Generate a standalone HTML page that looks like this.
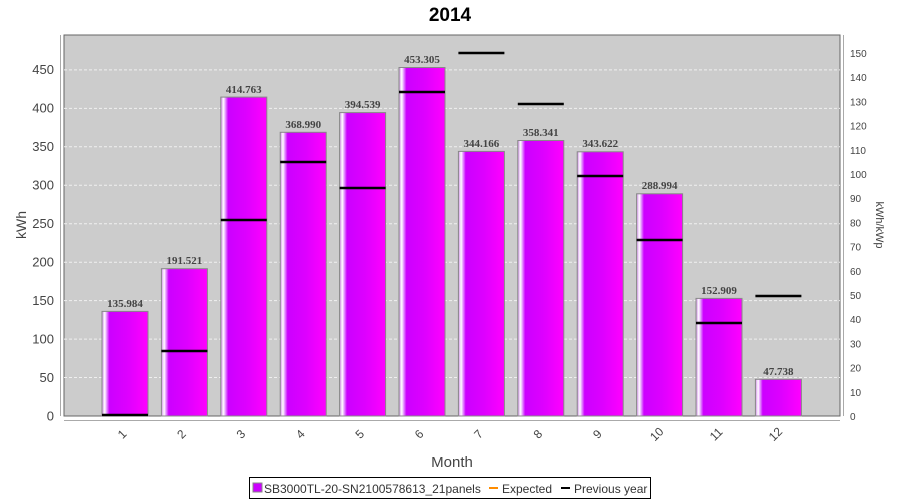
<!DOCTYPE html><html><head><style>body{margin:0;background:#fff}svg{display:block;font-family:"Liberation Sans",sans-serif}</style></head><body>
<svg width="900" height="500" xmlns="http://www.w3.org/2000/svg">
<defs><linearGradient id="g" x1="0" x2="1" y1="0" y2="0">
<stop offset="0" stop-color="#d08ae8"/><stop offset="0.06" stop-color="#ffffff"/><stop offset="0.11" stop-color="#e080ff"/><stop offset="0.16" stop-color="#cc00ff"/><stop offset="0.55" stop-color="#dd00ff"/><stop offset="1" stop-color="#ff00ff"/></linearGradient></defs>
<text x="450" y="21" font-size="19" font-weight="bold" text-anchor="middle">2014</text>
<rect x="64" y="35" width="776" height="381" fill="#cccccc" stroke="#666" stroke-width="1"/>
<g stroke="#f0f0f0" stroke-dasharray="3,2" stroke-width="1">
<line x1="64" x2="840" y1="377.5" y2="377.5"/><line x1="64" x2="840" y1="339.1" y2="339.1"/><line x1="64" x2="840" y1="300.6" y2="300.6"/><line x1="64" x2="840" y1="262.2" y2="262.2"/><line x1="64" x2="840" y1="223.7" y2="223.7"/><line x1="64" x2="840" y1="185.3" y2="185.3"/><line x1="64" x2="840" y1="146.8" y2="146.8"/><line x1="64" x2="840" y1="108.4" y2="108.4"/><line x1="64" x2="840" y1="69.9" y2="69.9"/>
</g>
<g fill="url(#g)" stroke="#888" stroke-width="1">
<rect x="102" y="311.4" width="46" height="104.6"/><rect x="161.4" y="268.7" width="46" height="147.3"/><rect x="220.8" y="97.1" width="46" height="318.9"/><rect x="280.2" y="132.3" width="46" height="283.7"/><rect x="339.6" y="112.6" width="46" height="303.4"/><rect x="399" y="67.5" width="46" height="348.5"/><rect x="458.4" y="151.4" width="46" height="264.6"/><rect x="517.8" y="140.5" width="46" height="275.5"/><rect x="577.2" y="151.8" width="46" height="264.2"/><rect x="636.6" y="193.8" width="46" height="222.2"/><rect x="696" y="298.4" width="46" height="117.6"/><rect x="755.4" y="379.3" width="46" height="36.7"/>
</g>
<g stroke="#000" stroke-width="2.5">
<line x1="102" x2="148" y1="415" y2="415"/><line x1="161.4" x2="207.4" y1="351" y2="351"/><line x1="220.8" x2="266.8" y1="220" y2="220"/><line x1="280.2" x2="326.2" y1="162" y2="162"/><line x1="339.6" x2="385.6" y1="188" y2="188"/><line x1="399" x2="445" y1="92" y2="92"/><line x1="458.4" x2="504.4" y1="53" y2="53"/><line x1="517.8" x2="563.8" y1="104" y2="104"/><line x1="577.2" x2="623.2" y1="176" y2="176"/><line x1="636.6" x2="682.6" y1="240" y2="240"/><line x1="696" x2="742" y1="323" y2="323"/><line x1="755.4" x2="801.4" y1="296" y2="296"/>
</g>
<g font-family="Liberation Serif,serif" font-size="11" font-weight="bold" fill="#444" text-anchor="middle">
<text x="125" y="307">135.984</text><text x="184.4" y="264">191.521</text><text x="243.8" y="93">414.763</text><text x="303.2" y="128">368.990</text><text x="362.6" y="108">394.539</text><text x="422" y="63">453.305</text><text x="481.4" y="147">344.166</text><text x="540.8" y="136">358.341</text><text x="600.2" y="147">343.622</text><text x="659.6" y="189">288.994</text><text x="719" y="294">152.909</text><text x="778.4" y="375">47.738</text>
</g>
<g stroke="#aaa"><line x1="60.5" x2="60.5" y1="35" y2="416"/><line x1="843.5" x2="843.5" y1="35" y2="416"/><line x1="64" x2="840" y1="420.5" y2="420.5"/></g>
<g font-size="13" fill="#444" text-anchor="end">
<text x="54" y="420.5">0</text><text x="54" y="382">50</text><text x="54" y="343.5">100</text><text x="54" y="305">150</text><text x="54" y="266.5">200</text><text x="54" y="228">250</text><text x="54" y="189.5">300</text><text x="54" y="151">350</text><text x="54" y="112.5">400</text><text x="54" y="74">450</text>
</g>
<g font-size="10" fill="#444">
<text x="850" y="420">0</text><text x="850" y="395.8">10</text><text x="850" y="371.6">20</text><text x="850" y="347.4">30</text><text x="850" y="323.2">40</text><text x="850" y="299">50</text><text x="850" y="274.8">60</text><text x="850" y="250.6">70</text><text x="850" y="226.4">80</text><text x="850" y="202.2">90</text><text x="850" y="178">100</text><text x="850" y="153.8">110</text><text x="850" y="129.6">120</text><text x="850" y="105.4">130</text><text x="850" y="81.2">140</text><text x="850" y="57">150</text>
</g>
<g font-size="12" fill="#444" text-anchor="middle">
<text transform="translate(125,437) rotate(-45)">1</text><text transform="translate(184.4,437) rotate(-45)">2</text><text transform="translate(243.8,437) rotate(-45)">3</text><text transform="translate(303.2,437) rotate(-45)">4</text><text transform="translate(362.6,437) rotate(-45)">5</text><text transform="translate(422,437) rotate(-45)">6</text><text transform="translate(481.4,437) rotate(-45)">7</text><text transform="translate(540.8,437) rotate(-45)">8</text><text transform="translate(600.2,437) rotate(-45)">9</text><text transform="translate(659.6,437) rotate(-45)">10</text><text transform="translate(719,437) rotate(-45)">11</text><text transform="translate(778.4,437) rotate(-45)">12</text>
</g>
<text x="452" y="467" font-size="15" fill="#444" text-anchor="middle">Month</text>
<text transform="translate(26,225) rotate(-90)" font-size="14" fill="#444" text-anchor="middle">kWh</text>
<text transform="translate(876,225) rotate(90)" font-size="11" fill="#444" text-anchor="middle">kWh/kWp</text>
<rect x="249.5" y="477.5" width="401" height="21" fill="#fff" stroke="#000"/>
<rect x="253" y="483" width="9" height="9" fill="#cc00ff" stroke="#888"/>
<text x="264" y="493" font-size="12" fill="#333">SB3000TL-20-SN2100578613_21panels</text>
<line x1="489" x2="498" y1="488" y2="488" stroke="#ff8c00" stroke-width="2"/>
<text x="502" y="493" font-size="12" fill="#333">Expected</text>
<line x1="561" x2="570" y1="488" y2="488" stroke="#000" stroke-width="2"/>
<text x="574" y="493" font-size="12" fill="#333">Previous year</text>
</svg></body></html>
